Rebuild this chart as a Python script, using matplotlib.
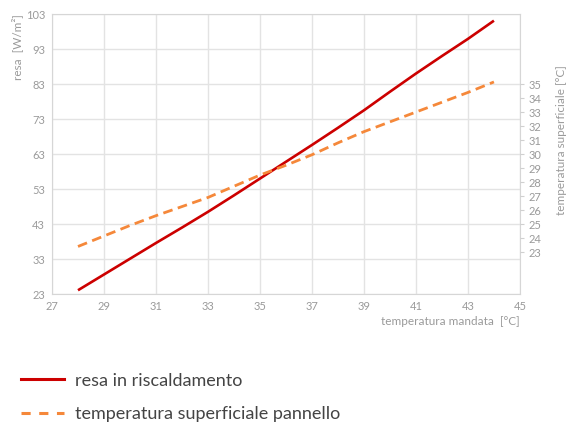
import matplotlib.pyplot as plt
from matplotlib.lines import Line2D

plt.rcParams['font.family'] = ['Lato', 'DejaVu Sans']

mandata = [28, 29, 30, 31, 32, 33, 34, 35, 36, 37, 38, 39, 40, 41, 42, 43, 44]
resa = [24.1, 28.6, 33.1, 37.6, 42.0, 46.5, 51.2, 56.0, 60.8, 65.6, 70.5, 75.5,
        80.8, 86.0, 91.0, 95.9, 101.1]
temp_sup = [23.4, 24.15, 24.9, 25.6, 26.25, 26.9, 27.7, 28.5, 29.2, 29.95, 30.8,
            31.6, 32.3, 33.0, 33.7, 34.4, 35.15]

x_ticks = [27, 29, 31, 33, 35, 37, 39, 41, 43, 45]
y_ticks = [23, 33, 43, 53, 63, 73, 83, 93, 103]
y2_ticks = list(range(23, 36))

TXT = '#9a9a9a'
GRID = '#e3e3e3'
RED = '#cc0000'
ORANGE = '#f5883a'

fig = plt.figure(figsize=(5.67, 4.25), dpi=100)
ax = fig.add_axes([0.0917, 0.308, 0.8253, 0.659])

ax.plot(mandata, resa, color=RED, lw=1.9, solid_capstyle='butt', zorder=3)
ax.set_xlim(27, 45)
ax.set_ylim(23, 103)
ax.set_xticks(x_ticks)
ax.set_yticks(y_ticks)
ax.grid(True, color=GRID, lw=1)
ax.set_axisbelow(True)
ax.tick_params(length=0, labelsize=8, labelcolor=TXT, pad=5)
for s in ax.spines.values():
    s.set_color('#d6d6d6')
ax.set_xlabel('temperatura mandata  [°C]', loc='right', fontsize=8.5,
              color=TXT, labelpad=3)
ax.set_ylabel('resa  [W/m²]', loc='top', fontsize=8.5, color=TXT, labelpad=2)

ax2 = ax.twinx()
ax2.plot(mandata, temp_sup, color=ORANGE, lw=2, dashes=(3.5, 2), zorder=3)
ax2.set_ylim(20, 40)
ax2.set_yticks(y2_ticks)
ax2.tick_params(length=3, width=0.8, color='#d0d0d0', labelsize=8,
                labelcolor=TXT, pad=3)
for s in ax2.spines.values():
    s.set_visible(False)
ax2.set_ylabel('temperatura superficiale [°C]', fontsize=8.5, color=TXT)
ax2.yaxis.set_label_coords(1.078, 0.55)

handles = [
    Line2D([], [], color=RED, lw=2.2),
    Line2D([], [], color=ORANGE, lw=2.2, dashes=(3, 2.8)),
]
fig.legend(handles, ['resa in riscaldamento', 'temperatura superficiale pannello'],
           loc='upper left', bbox_to_anchor=(0.024, 0.14), frameon=False,
           fontsize=13, labelcolor='#444444', handlelength=2.4,
           handletextpad=0.6, labelspacing=0.95, borderaxespad=0)

fig.savefig('out.png', dpi=100)
